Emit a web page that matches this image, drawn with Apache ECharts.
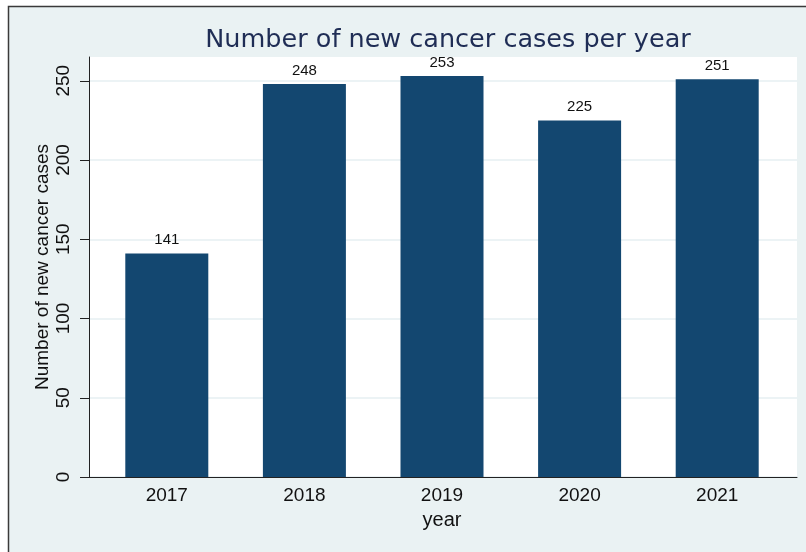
<!DOCTYPE html>
<html>
<head>
<meta charset="utf-8">
<script src="https://cdn.jsdelivr.net/npm/echarts@6/dist/echarts.min.js"></script>
<style>html,body{margin:0;padding:0;background:#fff}#c{width:806px;height:552px}</style>
</head>
<body>
<div id="c"></div>
<script>
const years = ['2017', '2018', '2019', '2020', '2021'];
const cases = [141, 248, 253, 225, 251];
const yTicks = [0, 50, 100, 150, 200, 250];
const titleText = 'Number of new cancer cases per year';
const yName = 'Number of new cancer cases';
const xName = 'year';

const chart = echarts.init(document.getElementById('c'), null, {renderer: 'canvas'});
const FONT = 'Liberation Sans';
const YMAX = 265;
chart.setOption({
  backgroundColor: '#ffffff',
  animation: false,
  graphic: [{
    type: 'rect', z: -100, silent: true,
    shape: {x: 8.5, y: 6.5, width: 820, height: 560},
    style: {fill: '#eaf2f3', stroke: '#3a3a3a', lineWidth: 1.5}
  }],
  title: {
    text: titleText, left: 443, top: 22, textAlign: 'center',
    textStyle: {fontFamily: 'DejaVu Sans', fontSize: 25.5, fontWeight: 'normal', color: '#1f2d55'}
  },
  grid: [
    {left: 98, right: 20, top: 57, bottom: 75},
    {left: 89, right: 9, top: 57, bottom: 75, show: true, backgroundColor: '#ffffff', borderWidth: 0}
  ],
  xAxis: [
    {
      type: 'category', gridIndex: 0, data: years,
      axisLine: {show: false}, axisTick: {show: false},
      axisLabel: {fontFamily: FONT, fontSize: 19, color: '#111', margin: 9},
      name: xName, nameLocation: 'middle', nameGap: 33, nameMoveOverlap: false,
      nameTextStyle: {fontFamily: FONT, fontSize: 20, color: '#111'}
    },
    {
      type: 'value', gridIndex: 1, min: 0, max: 1,
      axisLine: {show: true, onZero: false, lineStyle: {color: '#222', width: 1}},
      axisTick: {show: false}, axisLabel: {show: false}, splitLine: {show: false}
    }
  ],
  yAxis: [
    {
      type: 'value', gridIndex: 0, min: 0, max: YMAX, show: false
    },
    {
      type: 'value', gridIndex: 1, min: 0, max: YMAX,
      axisLine: {show: true, lineStyle: {color: '#222', width: 1}},
      axisTick: {show: true, length: 9, lineStyle: {color: '#222'}, customValues: yTicks},
      axisLabel: {fontFamily: FONT, fontSize: 19, color: '#111', rotate: 90, margin: 16, customValues: yTicks},
      splitLine: {show: true, lineStyle: {color: '#e6eff2', width: 1.5}},
      name: yName, nameLocation: 'middle', nameGap: 37, nameMoveOverlap: false,
      nameTextStyle: {fontFamily: FONT, fontSize: 19, color: '#111'}
    }
  ],
  series: [{
    type: 'bar', xAxisIndex: 0, yAxisIndex: 0, data: cases,
    barWidth: 83,
    itemStyle: {color: '#134770'},
    label: {show: true, position: 'top', distance: 6, fontFamily: FONT, fontSize: 15, color: '#111'}
  }]
});
</script>
</body>
</html>
